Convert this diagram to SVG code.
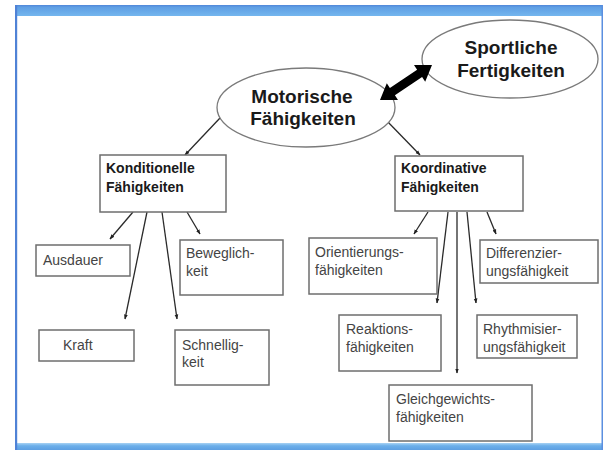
<svg xmlns="http://www.w3.org/2000/svg" width="604" height="450" viewBox="0 0 604 450">
<defs>
<linearGradient id="bar" x1="0" y1="0" x2="0" y2="1">
<stop offset="0" stop-color="#4f86d8"/>
<stop offset="0.2" stop-color="#5f9fe4"/>
<stop offset="1" stop-color="#74b6ee"/>
</linearGradient>
<linearGradient id="bbar" x1="0" y1="0" x2="0" y2="1">
<stop offset="0" stop-color="#a8d2f4"/>
<stop offset="0.4" stop-color="#6cafea"/>
<stop offset="1" stop-color="#5d9fe2"/>
</linearGradient>
<marker id="ah" markerUnits="userSpaceOnUse" markerWidth="5" markerHeight="5" refX="4.5" refY="2.5" orient="auto">
<path d="M0,0.6 L5,2.5 L0,4.4 Z" fill="#222"/>
</marker>
<style>
.box{fill:#fff;stroke:#6e6e6e;stroke-width:1.5}
.ell{fill:#fff;stroke:#7a7a7a;stroke-width:1.3}
.big{font-family:"Liberation Sans",Arial,sans-serif;font-weight:bold;font-size:19px;fill:#1a1a1a;text-anchor:middle}
.hd{font-family:"Liberation Sans",Arial,sans-serif;font-weight:bold;font-size:14px;fill:#1a1a1a}
.lb{font-family:"Liberation Sans",Arial,sans-serif;font-size:14px;fill:#444}
.cn{stroke:#2a2a2a;stroke-width:1.3;fill:none;marker-end:url(#ah)}
</style>
</defs>
<rect x="0" y="0" width="604" height="450" fill="#fff"/>
<g id="frame">
<rect x="15" y="5" width="588" height="11" fill="url(#bar)"/>
<rect x="15" y="443" width="588" height="7" fill="url(#bbar)"/>
<rect x="15" y="5" width="2.2" height="445" fill="#4f82d6"/>
<rect x="601.5" y="5" width="1.5" height="445" fill="#5b8fe0"/>
</g>
<g id="connectors">
<line class="cn" x1="220" y1="118" x2="185" y2="155"/>
<line class="cn" x1="386" y1="120" x2="420" y2="155"/>
<line class="cn" x1="133" y1="212" x2="110" y2="239"/>
<line class="cn" x1="147" y1="212" x2="125" y2="319"/>
<line class="cn" x1="162" y1="212" x2="177" y2="319"/>
<line class="cn" x1="187" y1="212" x2="200" y2="234"/>
<line class="cn" x1="428" y1="212" x2="414" y2="234"/>
<line class="cn" x1="448" y1="212" x2="437" y2="303"/>
<line class="cn" x1="457" y1="212" x2="457" y2="373"/>
<line class="cn" x1="467" y1="212" x2="476" y2="303"/>
<line class="cn" x1="487" y1="212" x2="496" y2="234"/>
</g>
<g id="motorische">
<ellipse class="ell" cx="306" cy="107.5" rx="89" ry="39.5"/>
<text class="big" x="302" y="103">Motorische</text>
<text class="big" x="303" y="125">Fähigkeiten</text>
</g>
<g id="sportliche">
<ellipse class="ell" cx="510" cy="59" rx="88" ry="39"/>
<text class="big" x="511" y="54">Sportliche</text>
<text class="big" x="511" y="77">Fertigkeiten</text>
</g>
<g id="double-arrow">
<polygon fill="#000" points="380,100 386.8,83.3 389.9,87.9 417.1,69.7 414,65.1 432,65 425.2,81.7 422.1,77.1 394.9,95.3 398,99.9"/>
</g>
<g id="konditionelle">
<rect class="box" x="100" y="155" width="126" height="57"/>
<text class="hd" x="106" y="173">Konditionelle</text>
<text class="hd" x="106" y="192">Fähigkeiten</text>
</g>
<g id="koordinative">
<rect class="box" x="395" y="156" width="128" height="55"/>
<text class="hd" x="401" y="173">Koordinative</text>
<text class="hd" x="401" y="192">Fähigkeiten</text>
</g>
<g id="ausdauer">
<rect class="box" x="36" y="245" width="94" height="31"/>
<text class="lb" x="43" y="265">Ausdauer</text>
</g>
<g id="beweglichkeit">
<rect class="box" x="180" y="240" width="103" height="55"/>
<text class="lb" x="186" y="258">Beweglich-</text>
<text class="lb" x="186" y="276">keit</text>
</g>
<g id="kraft">
<rect class="box" x="39" y="330" width="95" height="31"/>
<text class="lb" x="63" y="350">Kraft</text>
</g>
<g id="schnelligkeit">
<rect class="box" x="175" y="330" width="94" height="55"/>
<text class="lb" x="182" y="350">Schnellig-</text>
<text class="lb" x="182" y="367">keit</text>
</g>
<g id="orientierung">
<rect class="box" x="309" y="238" width="128" height="56"/>
<text class="lb" x="315" y="257">Orientierungs-</text>
<text class="lb" x="315" y="275">fähigkeiten</text>
</g>
<g id="differenzierung">
<rect class="box" x="480" y="240" width="118" height="43"/>
<text class="lb" x="486" y="258">Differenzier-</text>
<text class="lb" x="486" y="276">ungsfähigkeit</text>
</g>
<g id="reaktion">
<rect class="box" x="339" y="315" width="102" height="56"/>
<text class="lb" x="346" y="334">Reaktions-</text>
<text class="lb" x="346" y="352">fähigkeiten</text>
</g>
<g id="rhythmisierung">
<rect class="box" x="477" y="315" width="100" height="43"/>
<text class="lb" x="483" y="334">Rhythmisier-</text>
<text class="lb" x="483" y="352">ungsfähigkeit</text>
</g>
<g id="gleichgewicht">
<rect class="box" x="389" y="385" width="143" height="56"/>
<text class="lb" x="396" y="404">Gleichgewichts-</text>
<text class="lb" x="396" y="422">fähigkeiten</text>
</g>
</svg>
